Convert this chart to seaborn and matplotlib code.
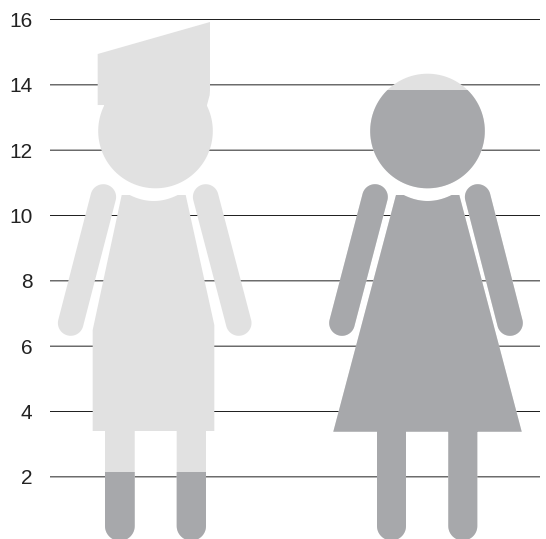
import numpy as np
import pandas as pd
import seaborn as sns
import matplotlib
matplotlib.use('Agg')
import matplotlib.pyplot as plt
from matplotlib.path import Path
from matplotlib.transforms import Affine2D

# values
figures = ['left', 'right']
filled = [2.15, 13.83]
full = [16, 16]
y_ticks = [2, 4, 6, 8, 10, 12, 14, 16]

LIGHT = '#e1e1e1'
DARK = '#a7a8ab'
INK = '#222222'

sns.set_style('white')
plt.rcParams['font.family'] = ['Liberation Sans', 'DejaVu Sans']


def closed(points):
    pts = np.array(points, dtype=float)
    x, y = pts[:, 0], pts[:, 1]
    area = np.sum(x * np.roll(y, -1) - np.roll(x, -1) * y)
    if area < 0:
        pts = pts[::-1]
    return Path(np.vstack([pts, pts[:1]]), closed=True)


def arc(cx, cy, r, start, stop, n=40):
    t = np.radians(np.linspace(start, stop, n))
    return np.column_stack([cx + r * np.cos(t), cy + r * np.sin(t)])


def capsule(x0, y0, x1, y1, r):
    ang = np.degrees(np.arctan2(y1 - y0, x1 - x0))
    return closed(np.vstack([arc(x0, y0, r, ang + 90, ang + 270),
                             arc(x1, y1, r, ang - 90, ang + 90)]))


def leg(x0, x1):
    r = (x1 - x0) / 2
    return closed(np.vstack([[[x0, 420], [x1, 420]],
                             arc(x0 + r, 526, r, 0, 180)]))


def neck(left, right):
    mid = (left + right) / 2
    xs = np.linspace(mid - 24, mid + 24, 30)
    ys = 195 + 6 * (1 - ((xs - mid) / 24) ** 2)
    return np.column_stack([xs, ys])


head = closed(arc(0, 131, 57.3, 0, 360, 120))
man_arms = [capsule(-52.2, 197, -84.8, 323, 12.8), capsule(50.2, 197, 83.2, 323, 12.8)]
woman_arms = [capsule(-52.5, 197, -85.5, 323, 12.8), capsule(50.2, 197, 82.5, 323, 12.8)]
legs_left = [leg(-50.5, -20.8), leg(21.2, 50.5)]
legs_right = [leg(-50.5, -21.5), leg(20.8, 49.8)]

hat = closed([[-57.8, 54], [54.5, 22], [54.5, 90], [54.2, 95], [51.5, 105],
              [0, 131], [-51.5, 105], [-57.8, 105]])
shirt = closed(np.vstack([[[-33.8, 195]], neck(-33.8, 30.2),
                          [[30.2, 195], [58.8, 325], [58.8, 431], [-62.8, 431], [-62.8, 330]]]))
dress = closed(np.vstack([[[-31.5, 195]], neck(-31.5, 31.8),
                          [[31.8, 195], [94.2, 431.7], [-94.2, 431.7]]]))

silhouettes = [
    Path.make_compound_path(head, hat, shirt, *man_arms, *legs_left),
    Path.make_compound_path(head, dress, *woman_arms, *legs_right),
]

df = pd.DataFrame({'figure': figures, 'filled': filled, 'full': full})

fig = plt.figure(figsize=(5.46, 5.39), dpi=100)
ax = fig.add_axes([50 / 546, 0, 490 / 546, 1])

sns.barplot(data=df, x='figure', y='full', color=LIGHT, saturation=1, width=0.8, linewidth=0, ax=ax)
sns.barplot(data=df, x='figure', y='filled', color=DARK, saturation=1, width=0.8, linewidth=0, ax=ax)

ax.set_xlim(-105.5 / 272, 1 + 112.5 / 272)
ax.set_ylim(0.097, 16.597)
ax.set(xlabel='', ylabel='', xticks=[], yticks=y_ticks)
ax.tick_params(axis='y', length=0, pad=12.6, labelsize=15, labelcolor=INK)
ax.set_axisbelow(True)
ax.yaxis.grid(True, color=INK, linewidth=0.72)
for line in ax.get_ygridlines():
    line.set_snap(False)
sns.despine(ax=ax, left=True, bottom=True)

# pour the bars into the people
for bar in ax.patches:
    i = int(round(bar.get_x() + bar.get_width() / 2))
    to_data = Affine2D().translate(0, -542.17).scale(1 / 272, -1 / 32.667).translate(i, 0)
    bar.set_clip_path(silhouettes[i], to_data + ax.transData)

fig.savefig('out.png', dpi=100)
